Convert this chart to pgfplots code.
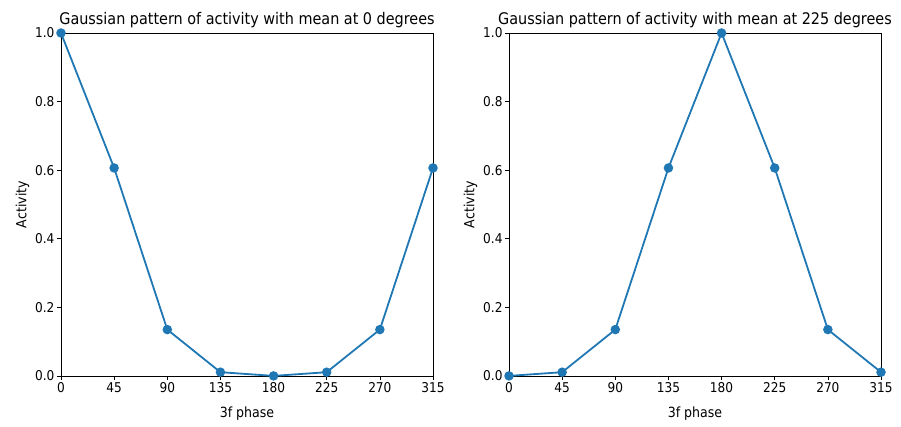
\documentclass[border=0pt]{standalone}
\usepackage{fontspec}
\setmainfont{DejaVu Sans Condensed}
\usepackage{pgfplots}
\pgfplotsset{compat=1.18}
\definecolor{mplblue}{HTML}{1F77B4}
\pgfplotsset{
  mystyle/.style={
    scale only axis, width=372pt, height=343pt,
    xmin=0, xmax=315, ymin=0, ymax=1,
    xtick={0,45,90,135,180,225,270,315},
    ytick={0,0.2,0.4,0.6,0.8,1.0},
    yticklabel style={/pgf/number format/fixed, /pgf/number format/fixed zerofill, /pgf/number format/precision=1, xshift=1pt},
    /pgf/number format/assume math mode=true,
    tick align=outside, tick pos=left,
    major tick length=4pt,
    tick style={black, line width=0.6pt},
    axis line style={line width=0.6pt},
    ticklabel style={font=\fontsize{13.5}{15}\selectfont},
    xticklabel style={yshift=1pt},
    label style={font=\fontsize{14}{16}\selectfont},
    xlabel style={yshift=-7pt},
    ylabel style={yshift=-1pt},
    title style={font=\fontsize{16}{18}\selectfont, yshift=-4pt},
    xlabel={3f phase}, ylabel={Activity},
    clip=false,
  },
  myline/.style={mplblue, line width=1.8pt, mark=*, mark size=3.8pt, mark options={fill=mplblue, draw=mplblue}},
}
\begin{document}
\begin{tikzpicture}[x=1pt,y=1pt]
\path (0,0) rectangle (901,427);
\begin{axis}[mystyle, at={(61pt,51pt)}, anchor=south west,
  title={Gaussian pattern of activity with mean at 0 degrees}]
\addplot[myline] coordinates {(0,1.0) (45,0.6065) (90,0.1353) (135,0.0111) (180,0.0003) (225,0.0111) (270,0.1353) (315,0.6065)};
\end{axis}
\begin{axis}[mystyle, at={(509pt,51pt)}, anchor=south west,
  title={Gaussian pattern of activity with mean at 225 degrees}]
\addplot[myline] coordinates {(0,0.0003) (45,0.0111) (90,0.1353) (135,0.6065) (180,1.0) (225,0.6065) (270,0.1353) (315,0.0111)};
\end{axis}
\end{tikzpicture}
\end{document}
